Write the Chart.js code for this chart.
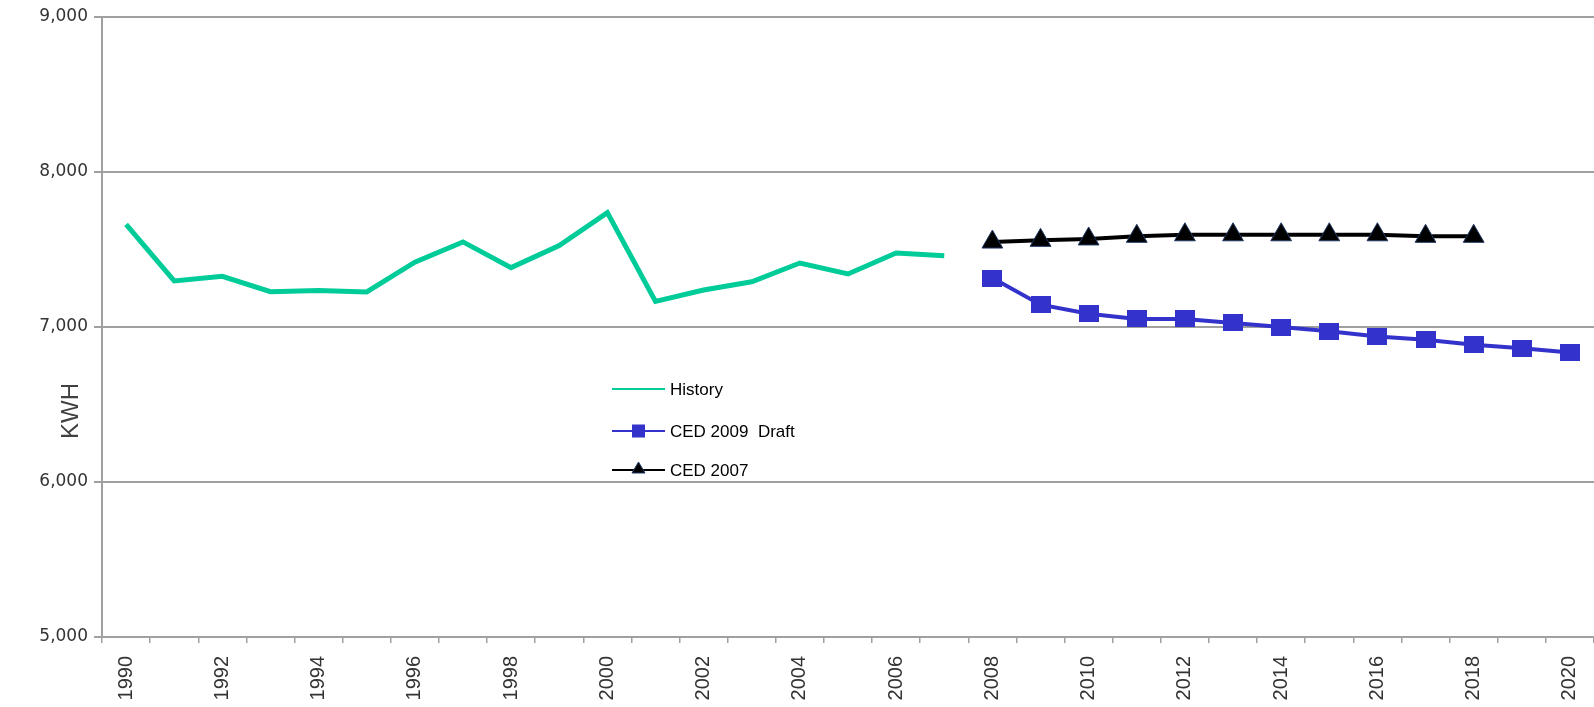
<!DOCTYPE html>
<html>
<head>
<meta charset="utf-8">
<script src="https://cdn.jsdelivr.net/npm/chart.js@4.4.1/dist/chart.umd.min.js"></script>
<style>
  html, body { margin: 0; padding: 0; background: #ffffff; }
  #wrap { position: relative; width: 1594px; height: 707px; }
</style>
</head>
<body>
<div id="wrap"><canvas id="c" width="1594" height="707"></canvas></div>
<script>
// ---- Data ----
const years = [1990,1991,1992,1993,1994,1995,1996,1997,1998,1999,2000,2001,2002,2003,2004,2005,2006,2007,2008,2009,2010,2011,2012,2013,2014,2015,2016,2017,2018,2019,2020];
const historyYears = [1990,1991,1992,1993,1994,1995,1996,1997,1998,1999,2000,2001,2002,2003,2004,2005,2006,2007];
const historyValues = [7662,7297,7327,7228,7235,7226,7418,7549,7383,7525,7738,7165,7239,7292,7413,7342,7477,7460];
const ced2009Years = [2008,2009,2010,2011,2012,2013,2014,2015,2016,2017,2018,2019,2020];
const ced2009Values = [7316,7144,7086,7052,7052,7026,7000,6972,6939,6918,6886,6863,6835];
const ced2007Years = [2008,2009,2010,2011,2012,2013,2014,2015,2016,2017,2018];
const ced2007Values = [7548,7559,7568,7585,7595,7595,7595,7595,7595,7585,7585];
const seriesNames = ["History", "CED 2009  Draft", "CED 2007"];
const yTicks = [5000, 6000, 7000, 8000, 9000];
const yTitle = "KWH";

function align(ys, vs) {
  return years.map(y => { const i = ys.indexOf(y); return i >= 0 ? vs[i] : null; });
}

const GREEN = '#00CC99', BLUE = '#3333CC', BLACK = '#000000';

function rectImg(w, h, color) {
  const c = document.createElement('canvas');
  c.width = w; c.height = h;
  const g = c.getContext('2d');
  g.fillStyle = color; g.fillRect(0, 0, w, h);
  return c;
}
const sq = rectImg(20, 17, BLUE);

const legendPlugin = {
  id: 'customLegend',
  afterDraw(chart) {
    const ctx = chart.ctx;
    ctx.save();
    // y title
    ctx.save();
    ctx.translate(71, 411);
    ctx.rotate(-Math.PI / 2);
    ctx.font = '24px "Liberation Sans", Arial, sans-serif';
    ctx.fillStyle = '#404040';
    ctx.textAlign = 'center';
    ctx.textBaseline = 'middle';
    ctx.fillText(yTitle, 0, 0);
    ctx.restore();

    const x0 = 612, x1 = 665, tx = 670;
    const rows = [389, 431, 470];
    ctx.font = '17px "Liberation Sans", Arial, sans-serif';
    ctx.textBaseline = 'middle';
    ctx.textAlign = 'left';
    // History
    ctx.strokeStyle = GREEN; ctx.lineWidth = 2;
    ctx.beginPath(); ctx.moveTo(x0, rows[0]); ctx.lineTo(x1, rows[0]); ctx.stroke();
    // CED 2009
    ctx.strokeStyle = BLUE; ctx.lineWidth = 2;
    ctx.beginPath(); ctx.moveTo(x0, rows[1]); ctx.lineTo(x1, rows[1]); ctx.stroke();
    ctx.fillStyle = BLUE; ctx.fillRect(632, rows[1] - 6.5, 13, 13);
    // CED 2007
    ctx.strokeStyle = BLACK; ctx.lineWidth = 2;
    ctx.beginPath(); ctx.moveTo(x0, rows[2]); ctx.lineTo(x1, rows[2]); ctx.stroke();
    ctx.fillStyle = BLACK;
    ctx.beginPath(); ctx.moveTo(638.5, rows[2] - 8); ctx.lineTo(645, rows[2] + 3); ctx.lineTo(632, rows[2] + 3); ctx.closePath(); ctx.fill();
    ctx.strokeStyle = '#1F3864'; ctx.lineWidth = 1; ctx.stroke();

    ctx.fillStyle = '#000000';
    seriesNames.forEach((n, i) => ctx.fillText(n, tx, rows[i] + 1));
    ctx.restore();
  }
};

new Chart(document.getElementById('c'), {
  type: 'line',
  data: {
    labels: years.map(String),
    datasets: [
      {
        label: seriesNames[0],
        data: align(historyYears, historyValues),
        borderColor: GREEN, backgroundColor: GREEN,
        borderWidth: 5, pointRadius: 0, tension: 0,
        borderJoinStyle: 'miter'
      },
      {
        label: seriesNames[1],
        data: align(ced2009Years, ced2009Values),
        borderColor: BLUE, backgroundColor: BLUE,
        borderWidth: 4, pointStyle: sq, pointRadius: 10, tension: 0
      },
      {
        label: seriesNames[2],
        data: align(ced2007Years, ced2007Values),
        borderColor: BLACK, backgroundColor: BLACK,
        pointBorderColor: '#1F3864', pointBorderWidth: 1,
        borderWidth: 4, pointStyle: 'triangle', pointRadius: 12, tension: 0
      }
    ]
  },
  options: {
    responsive: false,
    animation: false,
    devicePixelRatio: 1,
    layout: { autoPadding: false, padding: { left: 0, right: 0, top: 17, bottom: 0 } },
    plugins: { legend: { display: false }, tooltip: { enabled: false } },
    scales: {
      x: {
        offset: true,
        grid: { offset: true, drawOnChartArea: false, drawTicks: true, tickLength: 6, color: '#a0a0a0', lineWidth: 1.5 },
        border: { color: '#a0a0a0', width: 2 },
        ticks: {
          autoSkip: false, maxRotation: 90, minRotation: 90, padding: 13,
          color: '#333333',
          font: { family: '"Liberation Sans", Arial, sans-serif', size: 20 },
          callback: function(v, i) { return i % 2 === 0 ? this.getLabelForValue(v) : ''; }
        },
        afterFit(s) { s.height = 70; s.paddingLeft = 0; s.paddingRight = 0; }
      },
      y: {
        min: 5000, max: 9000,
        afterBuildTicks(s) { s.ticks = yTicks.map(v => ({ value: v })); },
        grid: { color: '#a0a0a0', lineWidth: 2, tickLength: 8 },
        border: { color: '#a0a0a0', width: 2 },
        ticks: {
          padding: 6, color: '#333333',
          font: { family: '"DejaVu Sans", Verdana, sans-serif', size: 17 },
          callback: v => v.toLocaleString('en-US')
        },
        afterFit(s) { s.width = 102; s.paddingTop = 0; s.paddingBottom = 0; }
      }
    }
  },
  plugins: [legendPlugin]
});
</script>
</body>
</html>
